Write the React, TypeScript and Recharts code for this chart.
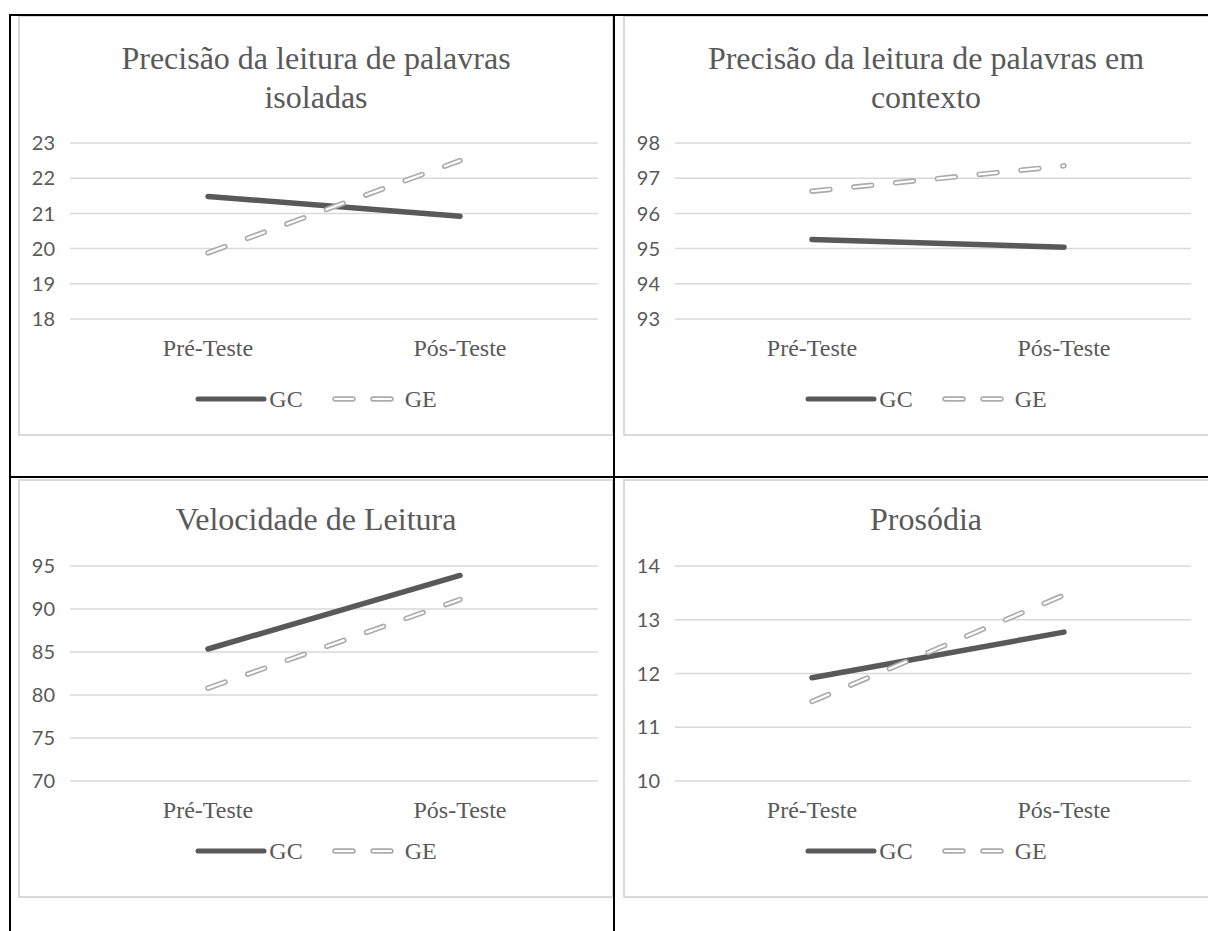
import React from "react";
import { LineChart, Line, XAxis, YAxis, CartesianGrid } from "recharts";

// Values (Excel line charts, two groups, two moments).
const categories = ["Pré-Teste", "Pós-Teste"];

const isoladasGC = [21.48, 20.92];
const isoladasGE = [19.88, 22.5];
const isoladasTicks = [18, 19, 20, 21, 22, 23];

const contextoGC = [95.26, 95.04];
const contextoGE = [96.63, 97.35];
const contextoTicks = [93, 94, 95, 96, 97, 98];

const velocidadeGC = [85.35, 93.9];
const velocidadeGE = [80.8, 91.1];
const velocidadeTicks = [70, 75, 80, 85, 90, 95];

const prosodiaGC = [11.92, 12.77];
const prosodiaGE = [11.48, 13.46];
const prosodiaTicks = [10, 11, 12, 13, 14];

const TEXT = "#595959";
const GRID = "#d9d9d9";
const GE_COLOR = "#ababab";
const SERIF = '"Liberation Serif", "Times New Roman", serif';
const SANS = 'Lato, "Open Sans", sans-serif';

const Y_AXIS_W = 52;
const X_AXIS_H = 40;

type PanelProps = {
  title: string[];
  gc: number[];
  ge: number[];
  ticks: number[];
  left: number;
  top: number;
  width: number;
  height: number;
  plotTop: number;
  plotHeight: number;
  plotWidth: number;
  // Excel puts category points in the middle of each band; a point scale needs half a band of padding.
  pad: [number, number];
  titleTop: number;
  legendTop: number;
};

function Legend({ width, top }: { width: number; top: number }) {
  return (
    <div
      style={{
        position: "absolute",
        left: 0,
        top: top - 15,
        width,
        height: 30,
        display: "flex",
        justifyContent: "center",
        alignItems: "center",
        fontFamily: SERIF,
        fontSize: 24,
        color: TEXT,
      }}
    >
      <svg width={72} height={10}>
        <line x1={3} y1={5} x2={69} y2={5} stroke={TEXT} strokeWidth={5} strokeLinecap="round" />
      </svg>
      <span style={{ marginLeft: 2 }}>GC</span>
      <svg width={64} height={10} style={{ marginLeft: 28 }}>
        <line x1={4} y1={5} x2={22} y2={5} stroke={GE_COLOR} strokeWidth={5.5} strokeLinecap="round" />
        <line x1={4} y1={5} x2={22} y2={5} stroke="#fff" strokeWidth={2.2} strokeLinecap="round" />
        <line x1={42} y1={5} x2={60} y2={5} stroke={GE_COLOR} strokeWidth={5.5} strokeLinecap="round" />
        <line x1={42} y1={5} x2={60} y2={5} stroke="#fff" strokeWidth={2.2} strokeLinecap="round" />
      </svg>
      <span style={{ marginLeft: 10 }}>GE</span>
    </div>
  );
}

function Panel(p: PanelProps) {
  const data = categories.map((c, i) => ({ cat: c, gc: p.gc[i], ge: p.ge[i] }));
  const bottom = p.height - p.plotTop - p.plotHeight - X_AXIS_H;
  return (
    <div style={{ position: "absolute", left: p.left, top: p.top, width: p.width, height: p.height }}>
      <div
        style={{
          position: "absolute",
          left: 0,
          top: 0,
          width: p.width,
          height: p.height,
          border: `2px solid ${GRID}`,
          boxSizing: "border-box",
        }}
      />
      <div
        style={{
          position: "absolute",
          left: 0,
          top: p.titleTop,
          width: p.width,
          textAlign: "center",
          fontFamily: SERIF,
          fontSize: 32,
          lineHeight: "39px",
          color: TEXT,
        }}
      >
        {p.title.map((t) => (
          <div key={t}>{t}</div>
        ))}
      </div>
      <div style={{ position: "absolute", left: 0, top: 0 }}>
        <LineChart
          width={p.width}
          height={p.height}
          data={data}
          margin={{ top: p.plotTop, left: 0, right: p.width - Y_AXIS_W - p.plotWidth, bottom }}
        >
          <CartesianGrid vertical={false} stroke={GRID} strokeWidth={1.5} />
          <XAxis
            dataKey="cat"
            axisLine={false}
            tickLine={false}
            tickSize={0}
            tickMargin={20}
            height={X_AXIS_H}
            interval={0}
            padding={{ left: p.pad[0], right: p.pad[1] }}
            tick={{ fill: TEXT, fontSize: 24, fontFamily: SERIF }}
          />
          <YAxis
            width={Y_AXIS_W}
            domain={[p.ticks[0], p.ticks[p.ticks.length - 1]]}
            ticks={p.ticks}
            axisLine={false}
            tickLine={false}
            tickSize={0}
            tickMargin={15}
            tick={{ fill: TEXT, fontSize: 20, fontFamily: SANS }}
          />
          <Line
            dataKey="gc"
            stroke={TEXT}
            strokeWidth={5.5}
            strokeLinecap="round"
            dot={false}
            activeDot={false}
            isAnimationActive={false}
          />
          <Line
            dataKey="ge"
            stroke={GE_COLOR}
            strokeWidth={5.5}
            strokeLinecap="round"
            strokeDasharray="18 24"
            dot={false}
            activeDot={false}
            isAnimationActive={false}
          />
          <Line
            dataKey="ge"
            stroke="#fff"
            strokeWidth={2.2}
            strokeLinecap="round"
            strokeDasharray="18 24"
            dot={false}
            activeDot={false}
            isAnimationActive={false}
          />
        </LineChart>
      </div>
      <Legend width={p.width} top={p.legendTop} />
    </div>
  );
}

const black = (left: number, top: number, width: number, height: number) => (
  <div style={{ position: "absolute", left, top, width, height, background: "#000" }} />
);

const LEFT_BOX = { left: 18, width: 596, plotWidth: 528, pad: [138, 138] as [number, number] };
const RIGHT_BOX = { left: 623, width: 606, plotWidth: 516, pad: [137, 127] as [number, number] };
const TOP_ROW = { top: 15, height: 421, plotTop: 128, plotHeight: 176, titleTop: 24, legendTop: 384 };
const BOTTOM_ROW = { top: 479, height: 419, plotTop: 87, plotHeight: 215, titleTop: 21, legendTop: 372 };

export default function App() {
  return (
    <div
      style={{
        position: "absolute",
        left: 0,
        top: 0,
        width: 1208,
        height: 931,
        overflow: "hidden",
        background: "#fff",
      }}
    >
      <Panel
        title={["Precisão da leitura de palavras", "isoladas"]}
        gc={isoladasGC}
        ge={isoladasGE}
        ticks={isoladasTicks}
        {...LEFT_BOX}
        {...TOP_ROW}
      />
      <Panel
        title={["Precisão da leitura de palavras em", "contexto"]}
        gc={contextoGC}
        ge={contextoGE}
        ticks={contextoTicks}
        {...RIGHT_BOX}
        {...TOP_ROW}
      />
      <Panel
        title={["Velocidade de Leitura"]}
        gc={velocidadeGC}
        ge={velocidadeGE}
        ticks={velocidadeTicks}
        {...LEFT_BOX}
        {...BOTTOM_ROW}
      />
      <Panel
        title={["Prosódia"]}
        gc={prosodiaGC}
        ge={prosodiaGE}
        ticks={prosodiaTicks}
        {...RIGHT_BOX}
        {...BOTTOM_ROW}
      />
      {black(9, 14, 1199, 2)}
      {black(9, 14, 2, 917)}
      {black(613, 14, 2, 917)}
      {black(9, 476, 1199, 2)}
    </div>
  );
}
